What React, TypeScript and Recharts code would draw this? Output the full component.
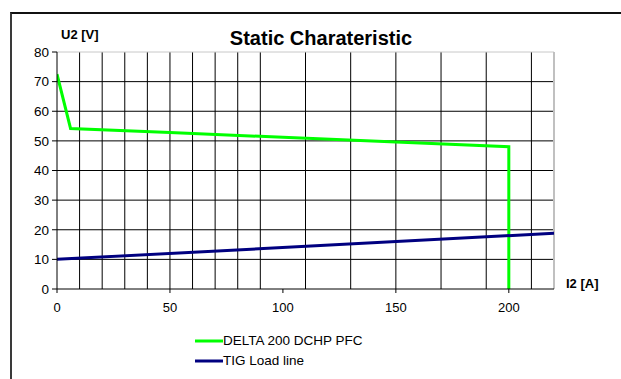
import React from 'react';
import { LineChart, Line, XAxis, YAxis, CartesianGrid, ReferenceLine, Legend } from 'recharts';

const deltaCurrent = [0, 6, 50, 100, 150, 200, 200];
const deltaVoltage = [72.5, 54.2, 52.8, 51.2, 49.6, 48, 0];
const tigCurrent = [0, 220];
const tigVoltage = [10, 18.8];

const xTicks = [0, 50, 100, 150, 200];
const yTicks = [0, 10, 20, 30, 40, 50, 60, 70, 80];
const gridX = [10, 20, 30, 40, 50, 60, 70, 80, 90, 100, 110, 120, 130, 140, 150, 160, 170, 180, 190, 200, 210];
const gridY = [10, 20, 30, 40, 50, 60, 70];

const deltaData = deltaCurrent.map((x, i) => ({ x, y: deltaVoltage[i] }));
const tigData = tigCurrent.map((x, i) => ({ x, y: tigVoltage[i] }));

const FONT = '"Liberation Sans", Arial, sans-serif';

const LegendContent = (props: any) => {
  const items = props.payload || [];
  return (
    <div>
      {items.map((entry: any, i: number) => (
        <div key={i} style={{ display: 'flex', alignItems: 'center', height: 20 }}>
          <svg width={28} height={20} style={{ display: 'block' }}>
            <line x1={0} x2={28} y1={10} y2={10} stroke={entry.color} strokeWidth={3} />
          </svg>
          <span style={{ fontFamily: FONT, fontSize: 13.5, color: '#000', lineHeight: '20px' }}>{entry.value}</span>
        </div>
      ))}
    </div>
  );
};

export default function App() {
  return (
    <div style={{ position: 'absolute', left: 0, top: 0, width: 621, height: 379, background: '#fff', overflow: 'hidden' }}>
      <div
        style={{
          position: 'absolute',
          left: 10,
          top: 12,
          width: 640,
          height: 400,
          borderTop: '2px solid #111',
          borderLeft: '2px solid #3a3a3a',
          boxSizing: 'border-box',
        }}
      />
      <div style={{ position: 'absolute', left: 0, top: 0 }}>
        <LineChart width={621} height={379} margin={{ top: 52, right: 67, bottom: 60, left: 0 }}>
          <CartesianGrid
            stroke="#000"
            strokeWidth={1}
            verticalValues={gridX}
            horizontalValues={gridY}
          />
          <XAxis
            type="number"
            dataKey="x"
            domain={[0, 220]}
            ticks={xTicks}
            allowDataOverflow
            height={30}
            tickSize={4}
            tickMargin={10}
            axisLine={{ stroke: '#000', strokeWidth: 1 }}
            tickLine={{ stroke: '#000' }}
            tick={{ fill: '#000', fontSize: 13, fontFamily: FONT }}
          />
          <YAxis
            type="number"
            dataKey="y"
            domain={[0, 80]}
            ticks={yTicks}
            width={57}
            tickSize={5}
            tickMargin={3}
            axisLine={{ stroke: '#000', strokeWidth: 1 }}
            tickLine={{ stroke: '#000' }}
            tick={{ fill: '#000', fontSize: 13.5, fontFamily: FONT }}
          />
          <ReferenceLine y={80} stroke="#c8c8c8" strokeWidth={1} />
          <ReferenceLine x={220} stroke="#c0c0c0" strokeWidth={2} />
          <Line
            data={deltaData}
            dataKey="y"
            name="DELTA 200 DCHP PFC"
            stroke="#00ff00"
            strokeWidth={3}
            dot={false}
            activeDot={false}
            isAnimationActive={false}
            type="linear"
          />
          <Line
            data={tigData}
            dataKey="y"
            name="TIG Load line"
            stroke="#000080"
            strokeWidth={3}
            dot={false}
            activeDot={false}
            isAnimationActive={false}
            type="linear"
          />
          <Legend
            layout="vertical"
            align="center"
            verticalAlign="middle"
            content={<LegendContent />}
            wrapperStyle={{ left: 195, top: 331, width: 220, height: 40 }}
          />
        </LineChart>
      </div>
      <svg width={621} height={379} style={{ position: 'absolute', left: 0, top: 0, pointerEvents: 'none' }}>
        <text x={321} y={45} textAnchor="middle" fontFamily={FONT} fontSize={20} fontWeight="bold" fill="#000">
          Static Charateristic
        </text>
        <text x={61} y={39} fontFamily={FONT} fontSize={13} fontWeight="bold" fill="#000">
          U2 [V]
        </text>
        <text x={566} y={288} fontFamily={FONT} fontSize={13} fontWeight="bold" fill="#000">
          I2 [A]
        </text>
      </svg>
    </div>
  );
}
